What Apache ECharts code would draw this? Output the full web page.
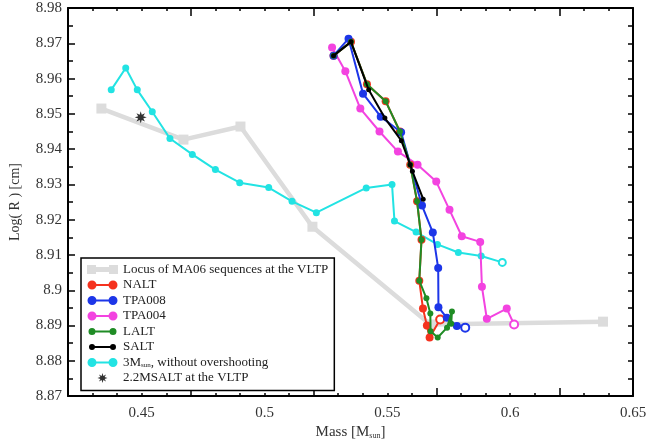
<!DOCTYPE html>
<html>
<head>
<meta charset="utf-8">
<script src="https://cdn.jsdelivr.net/npm/echarts@6/dist/echarts.min.js"></script>
<style>html,body{margin:0;padding:0;background:#fff;}#c{width:670px;height:445px;}</style>
</head>
<body>
<div id="c"></div>
<script>
// ---- data (Mass [Msun], Log(R) [cm]) ----
const xTickLabels = ['0.45', '0.5', '0.55', '0.6', '0.65'];
const yTickLabels = ['8.87', '8.88', '8.89', '8.9', '8.91', '8.92', '8.93', '8.94', '8.95', '8.96', '8.97', '8.98'];

const locusMA06 = [[0.4336,8.9515],[0.4670,8.9427],[0.4902,8.9464],[0.5195,8.9180],[0.5675,8.8903],[0.6378,8.8911]];
const nalt   = [[0.5281,8.9665],[0.5352,8.9704],[0.5417,8.9584],[0.5493,8.9536],[0.5551,8.9450],[0.5593,8.9356],[0.5621,8.9252],[0.5639,8.9143],[0.5630,8.9027],[0.5645,8.8948],[0.5661,8.8900],[0.5672,8.8866],[0.5715,8.8917]];
const tpa008 = [[0.5281,8.9665],[0.5342,8.9713],[0.5401,8.9557],[0.5473,8.9492],[0.5556,8.9448],[0.5641,8.9240],[0.5685,8.9164],[0.5707,8.9063],[0.5708,8.8952],[0.5742,8.8922],[0.5783,8.8899],[0.5817,8.8894]];
const tpa004 = [[0.5275,8.9688],[0.5329,8.9621],[0.5390,8.9515],[0.5468,8.9450],[0.5543,8.9393],[0.5623,8.9356],[0.5699,8.9308],[0.5753,8.9228],[0.5803,8.9153],[0.5878,8.9137],[0.5885,8.9010],[0.5905,8.8919],[0.5986,8.8948],[0.6016,8.8903]];
const lalt   = [[0.5281,8.9665],[0.5352,8.9704],[0.5417,8.9584],[0.5493,8.9536],[0.5551,8.9450],[0.5593,8.9356],[0.5621,8.9252],[0.5639,8.9143],[0.5630,8.9027],[0.5659,8.8977],[0.5675,8.8934],[0.5676,8.8884],[0.5705,8.8866],[0.5743,8.8894],[0.5763,8.8940],[0.5760,8.8905]];
const salt   = [[0.5281,8.9665],[0.5352,8.9704],[0.5424,8.9568],[0.5490,8.9488],[0.5557,8.9424],[0.5593,8.9356],[0.5602,8.9337],[0.5646,8.9258]];
const noOvershoot3M = [[0.4376,8.9568],[0.4435,8.9630],[0.4482,8.9568],[0.4543,8.9506],[0.4615,8.9430],[0.4706,8.9385],[0.4800,8.9342],[0.4899,8.9305],[0.5017,8.9291],[0.5112,8.9252],[0.5211,8.9220],[0.5414,8.9290],[0.5519,8.9300],[0.5529,8.9196],[0.5617,8.9165],[0.5704,8.9130],[0.5789,8.9107],[0.5882,8.9097],[0.5968,8.9079]];
const salt22VLTP = [[0.4496,8.9490]];

const seriesNames = ['Locus of MA06 sequences at the VLTP','NALT','TPA008','TPA004','LALT','SALT','3M_sun, without overshooting','2.2MSALT at the VLTP'];

// ---- styling ----
const FONT = '"Liberation Serif","DejaVu Serif",serif';
const C = {gray:'#dcdcdc', red:'#f5321e', blue:'#1d36e8', mag:'#f343e0', green:'#1f8c25', black:'#000000', cyan:'#22e3e3'};

function starPath(cx, cy, R, r) {
  let d = '';
  for (let i = 0; i < 16; i++) {
    const a = i * Math.PI / 8 - Math.PI / 2;
    const rr = i % 2 === 0 ? R : r;
    d += (i === 0 ? 'M' : 'L') + (cx + rr * Math.cos(a)).toFixed(2) + ',' + (cy + rr * Math.sin(a)).toFixed(2);
  }
  return d + 'Z';
}
const specks = 'M0,0L0.02,0L0.02,0.02Z M30.98,9.98L31,9.98L31,10Z';
function circ(cx, cy, r) {
  return 'M' + (cx - r) + ',' + cy + 'A' + r + ',' + r + ' 0 1,1 ' + (cx + r) + ',' + cy + 'A' + r + ',' + r + ' 0 1,1 ' + (cx - r) + ',' + cy + 'Z';
}
function lineIcon(r, h) {
  return 'path://' + circ(5, 5, r) + ' M5,' + (5 - h / 2) + 'L26,' + (5 - h / 2) + 'L26,' + (5 + h / 2) + 'L5,' + (5 + h / 2) + 'Z ' + circ(26, 5, r) + ' ' + specks;
}
const squareIcon = 'path://M0,0.5L9,0.5L9,9.5L0,9.5Z M4,2.6L27,2.6L27,7.4L4,7.4Z M22,0.5L31,0.5L31,9.5L22,9.5Z';
const starIcon = 'path://' + starPath(15.5, 5, 5, 2.3) + ' ' + specks;
const starSymbol = 'path://' + starPath(0, 0, 10, 4.6);

function lineSeries(name, data, color, size, width, openEnd, z) {
  return {
    name: name, type: 'line', data: data.map(function (p, i) {
      if (openEnd && i === data.length - 1) {
        return {value: p, symbol: 'emptyCircle', symbolSize: size, itemStyle: {borderWidth: 1.5}};
      }
      return p;
    }),
    symbol: 'circle', symbolSize: size, showAllSymbol: true,
    lineStyle: {color: color, width: width}, itemStyle: {color: color},
    z: z, animation: false
  };
}

const series = [
  {name: seriesNames[0], type: 'line', data: locusMA06, symbol: 'rect', symbolSize: 10,
   lineStyle: {color: C.gray, width: 4.5}, itemStyle: {color: C.gray}, z: 1, animation: false},
  lineSeries(seriesNames[6], noOvershoot3M, C.cyan, 7, 2, true, 2),
  lineSeries(seriesNames[3], tpa004, C.mag, 8, 2, true, 3),
  lineSeries(seriesNames[1], nalt, C.red, 8, 2, true, 4),
  lineSeries(seriesNames[2], tpa008, C.blue, 8, 2, true, 5),
  lineSeries(seriesNames[4], lalt, C.green, 6, 2, false, 6),
  lineSeries(seriesNames[5], salt, C.black, 5, 2, false, 7),
  {name: seriesNames[7], type: 'scatter', data: salt22VLTP, symbol: starSymbol, symbolSize: 12,
   itemStyle: {color: '#000'}, z: 8, animation: false}
];

const legendIcons = [squareIcon, lineIcon(4.5, 2), lineIcon(4.5, 2), lineIcon(4.5, 2), lineIcon(3.5, 2), lineIcon(3, 2), lineIcon(4.5, 2), starIcon];

function isMult05(v) { const k = v * 20; return Math.abs(k - Math.round(k)) < 1e-6; }
function fmt(v) { return String(+v.toFixed(2)); }

const axisLineStyle = {color: '#000', width: 2};
function xAxisDef(pos, interval, tickLen, labels) {
  return {
    type: 'value', position: pos, min: 0.42, max: 0.65, interval: interval,
    axisLine: {show: interval === 0.01, onZero: false, lineStyle: axisLineStyle},
    axisTick: {show: true, inside: true, length: tickLen, lineStyle: {color: '#000', width: 1.5}},
    axisLabel: labels ? {show: true, formatter: function (v) { return isMult05(v) && xTickLabels.indexOf(fmt(v)) >= 0 ? fmt(v) : ''; },
      fontFamily: FONT, fontSize: 15, color: '#333', margin: 9, showMinLabel: true, showMaxLabel: true} : {show: false},
    splitLine: {show: false},
    name: labels ? 'Mass [M{sub|sun}]' : '',
    nameLocation: 'middle', nameGap: 26,
    nameTextStyle: {fontFamily: FONT, fontSize: 15, color: '#333',
      rich: {sub: {fontFamily: FONT, fontSize: 8, color: '#333', lineHeight: 8, verticalAlign: 'bottom'}}}
  };
}
function yAxisDef(pos, labels) {
  return {
    type: 'value', position: pos, min: 8.87, max: 8.98, interval: 0.01,
    axisLine: {show: true, onZero: false, lineStyle: axisLineStyle},
    axisTick: {show: true, inside: true, length: labels ? 7 : 5, lineStyle: {color: '#000', width: 1.5}},
    minorTick: {show: true, splitNumber: 2, length: 5, lineStyle: {color: '#000', width: 1.5}},
    axisLabel: labels ? {show: true, formatter: function (v) { const s = fmt(v); return yTickLabels.indexOf(s) >= 0 ? s : ''; },
      fontFamily: FONT, fontSize: 15, color: '#333', margin: 6} : {show: false},
    splitLine: {show: false}, minorSplitLine: {show: false},
    name: labels ? 'Log( R ) [cm]' : '', nameLocation: 'middle', nameGap: 46,
    nameTextStyle: {fontFamily: FONT, fontSize: 14, color: '#333'}
  };
}

const chart = echarts.init(document.getElementById('c'), null, {renderer: 'canvas'});
chart.setOption({
  backgroundColor: '#fff',
  animation: false,
  grid: {left: 68, right: 37, top: 8, bottom: 40, containLabel: false},
  xAxis: [xAxisDef('bottom', 0.01, 3, true), xAxisDef('bottom', 0.05, 8, false), xAxisDef('top', 0.01, 3, false), xAxisDef('top', 0.05, 8, false)],
  yAxis: [yAxisDef('left', true), yAxisDef('right', false)],
  legend: {
    orient: 'vertical', left: 81, top: 258,
    data: seriesNames.map(function (n, i) { return {name: n, icon: legendIcons[i]}; }),
    itemWidth: 31, itemHeight: 10, itemGap: 2.5,
    padding: [5, 6, 6, 6],
    backgroundColor: '#fff', borderColor: '#000', borderWidth: 1.5, borderRadius: 0,
    selectedMode: false,
    formatter: function (n) { return n === seriesNames[6] ? '3M{sub|sun}, without overshooting' : n; },
    textStyle: {fontFamily: FONT, fontSize: 13, color: '#222', lineHeight: 13,
      rich: {sub: {fontFamily: FONT, fontSize: 7, color: '#222', lineHeight: 7, verticalAlign: 'bottom'}}}
  },
  series: series
});
</script>
</body>
</html>
